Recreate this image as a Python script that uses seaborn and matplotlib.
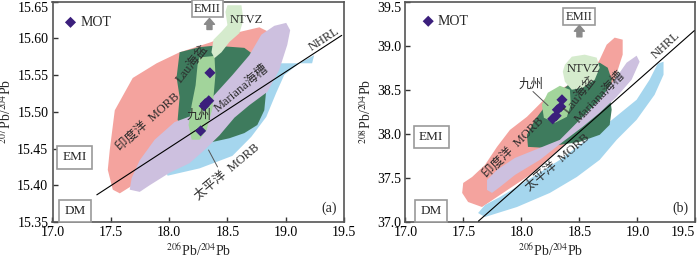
import matplotlib
matplotlib.use("Agg")
import numpy as np
import pandas as pd
import matplotlib.pyplot as plt
import seaborn as sns

# Jiuzhou samples (MOT)
pb206 = [18.35, 18.31, 18.34, 18.27, 18.30]
pb207 = [15.553, 15.511, 15.515, 15.474, 15.508]
pb208 = [38.386, 38.273, 38.307, 38.170, 38.205]

# reference line (NHRL) end points
nhrl_x_a = [17.38, 19.48]
nhrl_y_a = [15.387, 15.604]
nhrl_x_b = [17.63, 19.49]
nhrl_y_b = [37.01, 39.17]

# field outlines, 207Pb/204Pb vs 206Pb/204Pb
indian_a = [(17.517, 15.394), (17.474, 15.421), (17.491, 15.448), (17.534, 15.502), (17.688, 15.546),
            (17.893, 15.566), (18.090, 15.581), (18.346, 15.594), (18.560, 15.607), (18.774, 15.615),
            (18.876, 15.607), (18.859, 15.591), (18.603, 15.543), (18.261, 15.489), (17.987, 15.464),
            (17.833, 15.448), (17.748, 15.428), (17.688, 15.400), (17.577, 15.389)]
pacific_a = [(17.987, 15.413), (18.261, 15.423), (18.543, 15.440), (18.705, 15.466), (18.833, 15.493),
             (18.919, 15.526), (18.987, 15.550), (19.115, 15.566), (19.244, 15.577), (19.226, 15.566),
             (18.919, 15.566), (18.731, 15.557), (18.432, 15.516), (18.090, 15.462), (17.962, 15.423)]
lau_a = [(18.090, 15.581), (18.261, 15.588), (18.389, 15.590), (18.645, 15.587), (18.731, 15.577),
         (18.791, 15.557), (18.833, 15.530), (18.816, 15.502), (18.756, 15.482), (18.645, 15.471),
         (18.517, 15.464), (18.346, 15.458), (18.218, 15.462), (18.132, 15.475), (18.073, 15.489),
         (18.090, 15.520), (18.064, 15.547)]
mariana_a = [(17.662, 15.394), (17.679, 15.410), (17.748, 15.434), (17.876, 15.462), (18.047, 15.486),
             (18.218, 15.496), (18.389, 15.523), (18.543, 15.550), (18.688, 15.577), (18.791, 15.605),
             (18.902, 15.617), (19.004, 15.621), (19.038, 15.611), (19.013, 15.591), (18.944, 15.557),
             (18.842, 15.527), (18.688, 15.509), (18.560, 15.492), (18.432, 15.468), (18.303, 15.448),
             (18.175, 15.430), (18.004, 15.417), (17.833, 15.400), (17.748, 15.391)]
jiuzhou_a = [(18.261, 15.574), (18.389, 15.576), (18.397, 15.550), (18.372, 15.505), (18.321, 15.475),
             (18.261, 15.462), (18.193, 15.462), (18.167, 15.482), (18.193, 15.509), (18.227, 15.536),
             (18.244, 15.564)]
ntvz_a = [(18.500, 15.645), (18.620, 15.645), (18.637, 15.625), (18.603, 15.607), (18.517, 15.595),
          (18.449, 15.581), (18.389, 15.573), (18.363, 15.581), (18.380, 15.598), (18.449, 15.609),
          (18.500, 15.618), (18.483, 15.636)]

# field outlines, 208Pb/204Pb vs 206Pb/204Pb
indian_b = [(17.490, 37.330), (17.499, 37.443), (17.576, 37.511), (17.687, 37.648), (17.790, 37.852),
            (17.902, 38.045), (18.048, 38.193), (18.220, 38.420), (18.375, 38.534), (18.589, 38.670),
            (18.675, 38.841), (18.735, 39.011), (18.804, 39.091), (18.873, 39.068), (18.873, 38.898),
            (18.804, 38.614), (18.675, 38.386), (18.418, 37.932), (18.074, 37.534), (17.816, 37.307),
            (17.661, 37.170), (17.541, 37.227)]
pacific_b = [(17.627, 37.102), (17.687, 37.193), (17.816, 37.284), (17.988, 37.420), (18.332, 37.705),
             (18.675, 38.045), (18.993, 38.386), (19.105, 38.614), (19.174, 38.795), (19.225, 38.818),
             (19.225, 38.670), (19.148, 38.443), (18.993, 38.159), (18.821, 37.932), (18.675, 37.705),
             (18.478, 37.511), (18.246, 37.330), (17.962, 37.170), (17.687, 37.057)]
lau_b = [(18.057, 37.852), (18.048, 37.989), (18.117, 38.159), (18.228, 38.352), (18.332, 38.477),
         (18.460, 38.614), (18.589, 38.784), (18.675, 38.807), (18.744, 38.750), (18.778, 38.614),
         (18.761, 38.443), (18.778, 38.273), (18.761, 38.102), (18.675, 37.989), (18.503, 37.909),
         (18.332, 37.875), (18.203, 37.841)]
mariana_b = [(17.704, 37.364), (17.704, 37.477), (17.790, 37.591), (17.945, 37.727), (18.117, 37.818),
             (18.332, 37.932), (18.503, 38.159), (18.675, 38.386), (18.804, 38.614), (18.907, 38.807),
             (18.993, 38.886), (19.019, 38.818), (18.950, 38.614), (18.821, 38.420), (18.675, 38.239),
             (18.529, 38.080), (18.357, 37.909), (18.160, 37.705), (17.945, 37.534), (17.816, 37.398),
             (17.747, 37.330)]
jiuzhou_b = [(18.228, 38.466), (18.332, 38.545), (18.418, 38.500), (18.426, 38.330), (18.392, 38.193),
             (18.289, 38.125), (18.194, 38.182), (18.177, 38.330)]
ntvz_b = [(18.375, 38.784), (18.435, 38.875), (18.546, 38.898), (18.649, 38.864), (18.675, 38.750),
          (18.632, 38.614), (18.529, 38.523), (18.435, 38.500), (18.375, 38.591), (18.357, 38.705)]

colors = {
    "indian": "#f4a39e",
    "pacific": "#a5d6ee",
    "lau": "#3e7b5d",
    "mariana": "#cdc0df",
    "jiuzhou": "#a2d49b",
    "ntvz": "#d5ebcd",
}

sns.set_theme(style="ticks")
plt.rcParams["font.family"] = ["Liberation Serif", "Noto Sans CJK SC"]
plt.rcParams["mathtext.fontset"] = "stix"

fig = plt.figure(figsize=(7.0, 2.61), dpi=100)
ax1 = fig.add_axes([0.075, 0.1494, 0.4165, 0.8446])
ax2 = fig.add_axes([0.579, 0.1494, 0.4145, 0.8446])


def draw_fields(ax, fields):
    for name, pts in fields:
        xs, ys = zip(*pts)
        ax.fill(xs, ys, color=colors[name], lw=0, zorder=1)


def boxed(ax, x, y, s, pad=0.4, size=9.5):
    ax.text(x, y, s, ha="center", va="center", fontsize=size, zorder=5,
            bbox=dict(boxstyle=f"square,pad={pad}", fc="white", ec="#9a9a9a", lw=1.2))


def up_arrow(ax, x, y0, y1):
    ax.annotate("", xy=(x, y1), xytext=(x, y0), zorder=6,
                arrowprops=dict(arrowstyle="simple,head_width=0.6,head_length=0.35,tail_width=0.3",
                                fc="#8a8a8a", ec="#8a8a8a", shrinkA=0, shrinkB=0))


def style_axes(ax, xlim, ylim, yticks, yticklabels, ylabel, tag):
    ax.set_xlim(*xlim)
    ax.set_ylim(*ylim)
    ax.set_xticks([17.0, 17.5, 18.0, 18.5, 19.0, 19.5])
    ax.set_xticklabels(["17.0", "17.5", "18.0", "18.5", "19.0", "19.5"])
    ax.set_yticks(yticks)
    ax.set_yticklabels(yticklabels)
    ax.tick_params(direction="in", length=3.5, width=1, labelsize=10, colors="#333333",
                   labelcolor="black", pad=3)
    ax.get_yticklabels()[-1].set_va("top")
    for sp in ax.spines.values():
        sp.set_color("#555555")
        sp.set_linewidth(1.2)
    ax.set_xlabel(r"$^{206}$Pb/$^{204}$Pb", fontsize=10, labelpad=2)
    ax.set_ylabel(ylabel, fontsize=10, labelpad=2)
    ax.text(0.977, 0.03, tag, transform=ax.transAxes, ha="right", va="bottom", fontsize=10)


lab = dict(fontsize=9, color="#2b2b2b", ha="center", va="center", zorder=6)

# ---- panel (a)
draw_fields(ax1, [("indian", indian_a), ("pacific", pacific_a), ("lau", lau_a),
                  ("mariana", mariana_a), ("jiuzhou", jiuzhou_a), ("ntvz", ntvz_a)])
sns.lineplot(x=nhrl_x_a, y=nhrl_y_a, ax=ax1, color="black", lw=0.8, zorder=3)
sns.scatterplot(x=pb206, y=pb207, ax=ax1, marker="D", s=32, color="#3b1f7c",
                edgecolor="none", zorder=4, label="MOT")
style_axes(ax1, (17.0, 19.5), (15.35, 15.65),
           [15.35, 15.40, 15.45, 15.50, 15.55, 15.60, 15.65],
           ["15.35", "15.40", "15.45", "15.50", "15.55", "15.60", "15.65"],
           r"$^{207}$Pb/$^{204}$Pb", "(a)")

ax1.text(17.816, 15.486, "印度洋  MORB", rotation=42, **lab)
ax1.text(18.20, 15.565, "Lau海盆", rotation=52, **lab)
ax1.text(18.26, 15.494, "九州", **lab)
ax1.text(18.62, 15.532, "Mariana海槽", rotation=40, **lab)
ax1.text(18.66, 15.625, "NTVZ", **lab)
ax1.text(18.50, 15.418, "太平洋  MORB", rotation=40, **lab)
ax1.text(19.33, 15.599, "NHRL", rotation=33, **lab)
ax1.plot([18.338, 18.415], [15.448, 15.425], color="#555555", lw=0.7, zorder=3)
boxed(ax1, 18.329, 15.640, "EMII", pad=0.2, size=9)
boxed(ax1, 17.192, 15.438, "EMI")
boxed(ax1, 17.192, 15.365, "DM")
up_arrow(ax1, 18.346, 15.612, 15.627)
ax1.legend(loc="upper left", bbox_to_anchor=(-0.005, 0.985), frameon=False, fontsize=10,
           handletextpad=0.1, borderaxespad=0.4, handlelength=1.2)

# ---- panel (b)
draw_fields(ax2, [("indian", indian_b), ("pacific", pacific_b), ("lau", lau_b),
                  ("mariana", mariana_b), ("jiuzhou", jiuzhou_b), ("ntvz", ntvz_b)])
sns.lineplot(x=nhrl_x_b, y=nhrl_y_b, ax=ax2, color="black", lw=0.8, zorder=3)
sns.scatterplot(x=pb206, y=pb208, ax=ax2, marker="D", s=32, color="#3b1f7c",
                edgecolor="none", zorder=4, label="MOT")
style_axes(ax2, (17.0, 19.5), (37.0, 39.5),
           [37.0, 37.5, 38.0, 38.5, 39.0, 39.5],
           ["37.0", "37.5", "38.0", "38.5", "39.0", "39.5"],
           r"$^{208}$Pb/$^{204}$Pb", "(b)")
ax2.get_xticklabels()[-1].set_ha("right")

ax2.text(18.08, 38.557, "九州", **lab)
ax2.plot([18.10, 18.23], [38.48, 38.32], color="#555555", lw=0.7, zorder=3)
ax2.text(18.503, 38.443, "Lau海盆", rotation=52, **lab)
ax2.text(18.53, 38.73, "NTVZ", **lab)
ax2.text(18.68, 38.42, "Mariana海槽", rotation=46, **lab)
ax2.text(17.93, 37.85, "印度洋  MORB", rotation=45, **lab)
ax2.text(18.31, 37.68, "太平洋  MORB", rotation=41, **lab)
ax2.text(19.25, 39.01, "NHRL", rotation=43, **lab)
boxed(ax2, 18.495, 39.33, "EMII", pad=0.2, size=9)
boxed(ax2, 17.223, 37.966, "EMI")
boxed(ax2, 17.223, 37.125, "DM")
up_arrow(ax2, 18.50, 39.10, 39.23)
ax2.legend(loc="upper left", bbox_to_anchor=(0.012, 0.99), frameon=False, fontsize=10,
           handletextpad=0.1, borderaxespad=0.4, handlelength=1.2)

fig.savefig("out.png", dpi=100)
